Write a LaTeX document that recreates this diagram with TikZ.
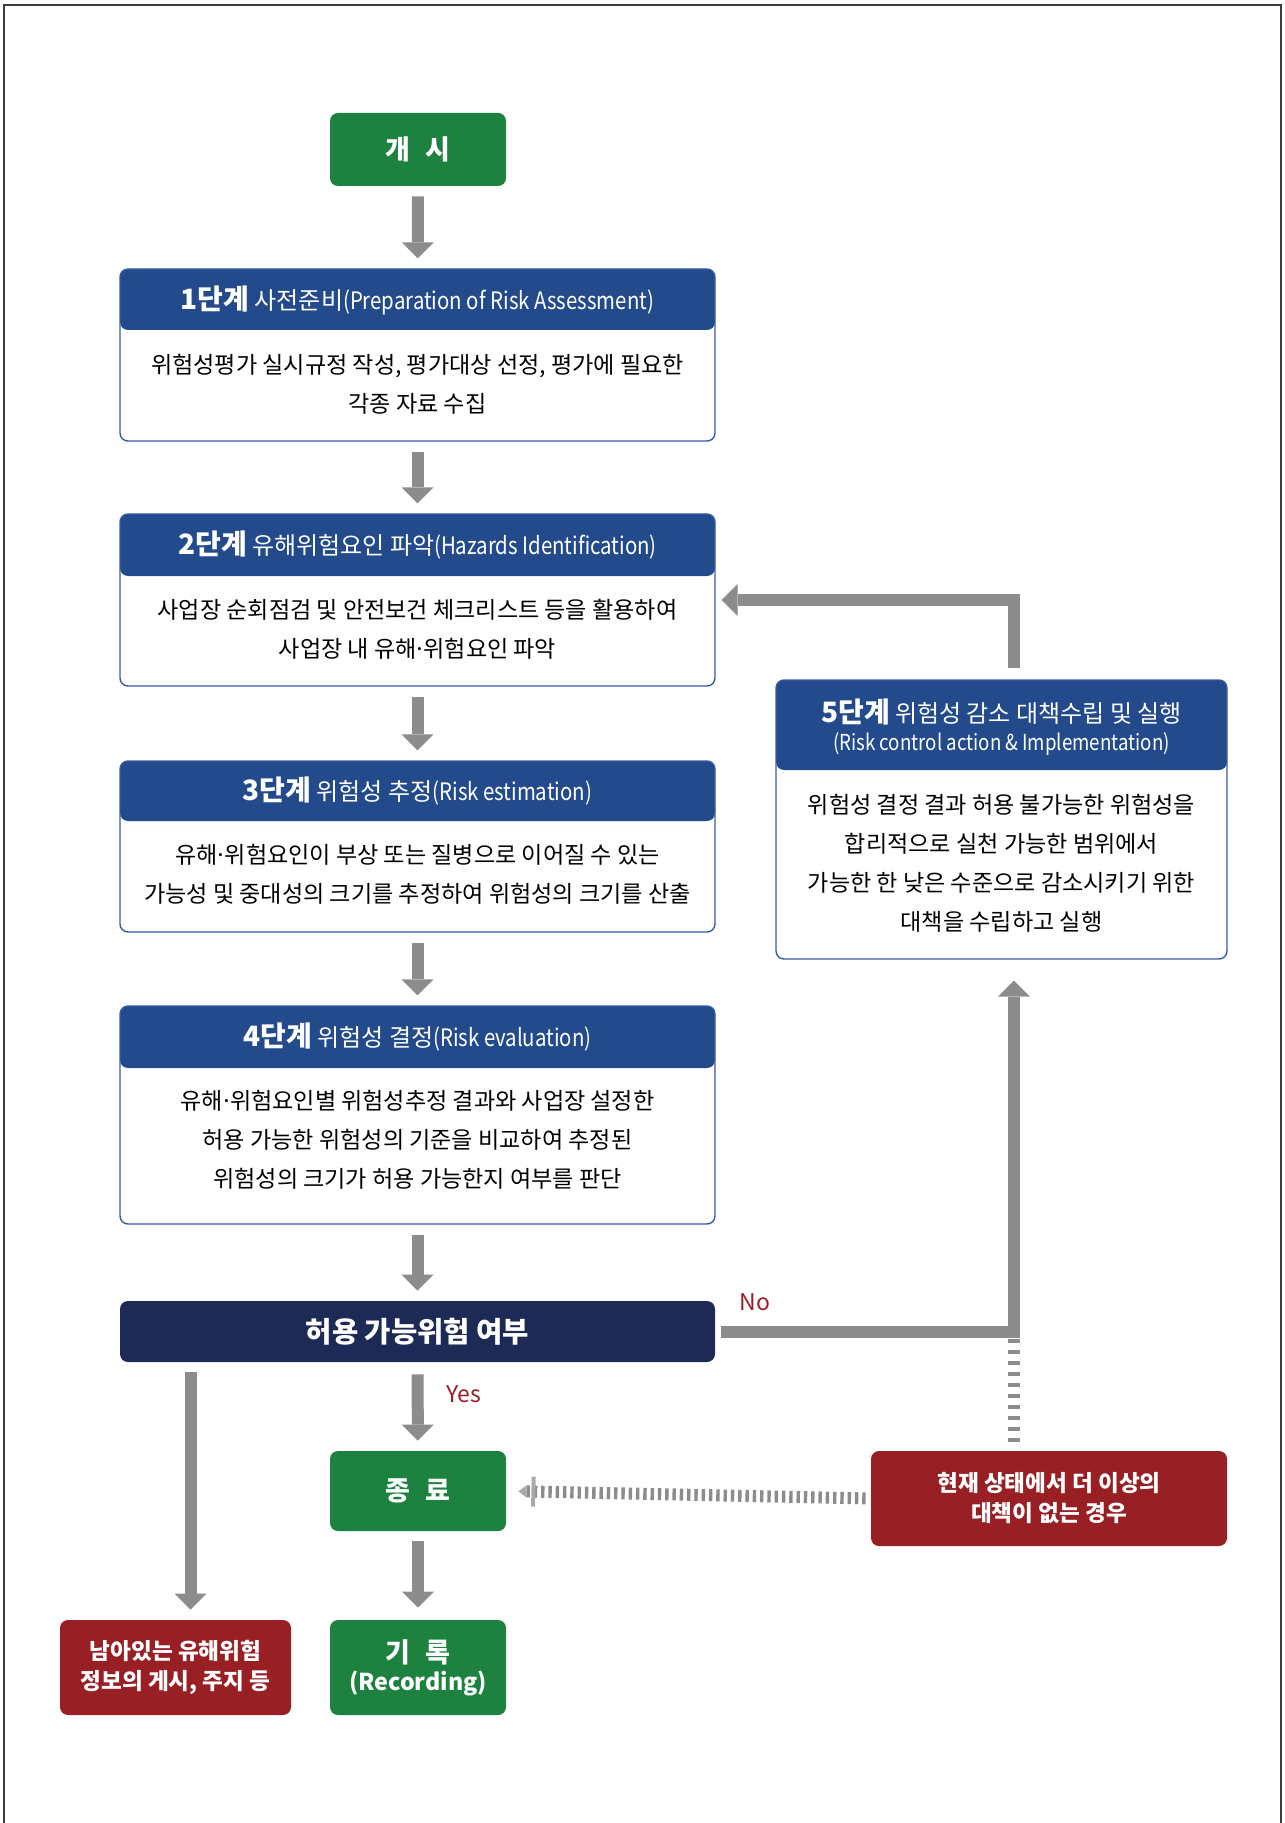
\documentclass[tikz,border=0pt]{standalone}
\usepackage{fontspec}
\setmainfont{Noto Sans CJK KR}
\newfontfamily\condlat[FakeStretch=0.85]{Noto Sans CJK KR}
\usetikzlibrary{arrows.meta,calc}
\definecolor{startgreen}{RGB}{29,130,64}
\definecolor{hdblue}{RGB}{35,75,140}
\definecolor{rimblue}{RGB}{55,90,165}
\definecolor{decnavy}{RGB}{30,42,86}
\definecolor{warnred}{RGB}{152,31,36}
\definecolor{lblred}{RGB}{160,28,34}
\definecolor{arrgray}{RGB}{140,140,140}
\definecolor{framegray}{RGB}{60,60,60}
\tikzset{
  flowarr/.style={draw=arrgray,line width=6pt,-{Triangle[width=16pt,length=8pt,line width=0pt]},shorten <=5pt,shorten >=5pt},
  termbox/.style={rectangle,rounded corners=4pt,fill=startgreen,text=white,font=\fontsize{13.5}{17}\selectfont\bfseries,align=center,minimum width=88pt},
  notebox/.style={rectangle,rounded corners=4pt,fill=warnred,text=white,font=\fontsize{11.3}{15}\selectfont\bfseries,align=center,minimum height=47.5pt},
  stepbox/.style={rectangle,rounded corners=4pt,draw=rimblue,line width=0.7pt,fill=white,minimum width=297.5pt,
    path picture={\fill[hdblue] (path picture bounding box.north west) rectangle ([yshift=-#1]path picture bounding box.north east);}},
  hdtext/.style={text=white,font=\fontsize{12}{14}\selectfont,align=center},
  bodytext/.style={font=\fontsize{11.55}{19.5}\selectfont,align=center},
  yesno/.style={text=lblred,font=\fontsize{11.5}{13}\selectfont}
}
\newcommand{\stg}[1]{{\fontsize{14}{15}\selectfont\bfseries #1}}
\newcommand{\eng}[1]{{\condlat #1}}
\newcommand{\mdot}{\makebox[0.3em]{·}}
\begin{document}
\begin{tikzpicture}[x=0.5pt,y=-0.5pt]
  \useasboundingbox (0,0) rectangle (1284,1823);
  \draw[framegray,line width=0.8pt] (4,1823) -- (4,5) -- (1281,5) -- (1281,1823); % frame

  % main column
  \node[termbox,minimum height=36.5pt] (start) at (418,149.5) {개\hspace{0.55em}시};
  \node[stepbox=30.5pt,minimum height=86pt] (s1) at (417.5,355) {};
  \node[hdtext] (s1h) at (417.5,300) {\stg{1단계} 사전준비\eng{(Preparation of Risk Assessment)}};
  \node[bodytext] (s1b) at (417.5,384) {위험성평가 실시규정 작성, 평가대상 선정, 평가에 필요한\\각종 자료 수집};

  \node[stepbox=31pt,minimum height=86pt] (s2) at (417.5,600) {};
  \node[hdtext] (s2h) at (417.5,545) {\stg{2단계} 유해위험요인 파악\eng{(Hazards Identification)}};
  \node[bodytext] (s2b) at (417.5,629) {사업장 순회점검 및 안전보건 체크리스트 등을 활용하여\\사업장 내 유해\mdot 위험요인 파악};

  \node[stepbox=30pt,minimum height=85.5pt] (s3) at (417.5,846.5) {};
  \node[hdtext] (s3h) at (417.5,791) {\stg{3단계} 위험성 추정\eng{(Risk estimation)}};
  \node[bodytext] (s3b) at (417.5,874) {유해\mdot 위험요인이 부상 또는 질병으로 이어질 수 있는\\가능성 및 중대성의 크기를 추정하여 위험성의 크기를 산출};

  \node[stepbox=31pt,minimum height=109pt] (s4) at (417.5,1115) {};
  \node[hdtext] (s4h) at (417.5,1037) {\stg{4단계} 위험성 결정\eng{(Risk evaluation)}};
  \node[bodytext] (s4b) at (417.5,1140) {유해\mdot 위험요인별 위험성추정 결과와 사업장 설정한\\허용 가능한 위험성의 기준을 비교하여 추정된\\위험성의 크기가 허용 가능한지 여부를 판단};

  \node[rectangle,rounded corners=4pt,fill=decnavy,text=white,font=\fontsize{14.3}{16}\selectfont\bfseries,minimum width=297.5pt,minimum height=30.5pt] (dec) at (417.5,1331.5) {허용 가능위험 여부};
  \node[termbox,minimum height=40pt] (end) at (418,1491) {종\hspace{0.55em}료};
  \node[termbox,minimum height=47.5pt] (rec) at (418,1667.5) {기\hspace{0.55em}록\\[-3pt]{\fontsize{11.6}{13}\selectfont(Recording)}};
  \node[notebox,minimum width=115.5pt] (left) at (175.5,1667.5) {남아있는 유해위험\\정보의 게시, 주지 등};

  % step 5 and its notes
  \node[stepbox=45pt,minimum width=225.5pt,minimum height=139.5pt] (s5) at (1001.5,819.5) {};
  \node[hdtext] (s5h) at (1001.5,727) {\stg{5단계} 위험성 감소 대책수립 및 실행\\{\fontsize{11}{13}\selectfont\eng{(Risk control action \& Implementation)}}};
  \node[bodytext] (s5b) at (1001.5,863) {위험성 결정 결과 허용 불가능한 위험성을\\합리적으로 실천 가능한 범위에서\\가능한 한 낮은 수준으로 감소시키기 위한\\대책을 수립하고 실행};
  \node[notebox,minimum width=178pt] (none) at (1049,1498.5) {현재 상태에서 더 이상의\\대책이 없는 경우};

  % arrows down the column
  \draw[flowarr] (start) -- (s1);
  \draw[flowarr] (s1) -- (s2);
  \draw[flowarr] (s2) -- (s3);
  \draw[flowarr] (s3) -- (s4);
  \draw[flowarr] (s4) -- (dec);
  \draw[flowarr,shorten <=6pt] (dec) -- (end) node[yesno,midway,right=8pt,yshift=6pt] (yes) {Yes};
  \draw[flowarr,shorten >=6pt] (end) -- (rec);
  \draw[flowarr] ([xshift=35.5pt]dec.south west) -- ([xshift=35.5pt]dec.south west |- left.north); % to notice box

  % loop through step 5
  \coordinate (bend) at ([xshift=6.25pt]s5.south |- dec.east);
  \draw[flowarr,shorten <=3pt,shorten >=10.5pt] (dec.east) -- (bend) -- ([xshift=6.25pt]s5.south); % No
  \node[yesno] (no) at (755,1302) {No};
  \draw[flowarr,shorten <=5.5pt,shorten >=3pt] ([xshift=6.25pt]s5.north) |- (s2.east); % back to step 2
  \draw[arrgray,line width=6pt,dash pattern=on 2.25pt off 3.25pt,shorten <=3.5pt,shorten >=2.5pt] (bend) -- (bend |- none.north); % dotted
  \draw[arrgray,line width=6pt,dash pattern=on 1.7pt off 1.95pt,shorten <=2.5pt,shorten >=6pt,
        -{Bar[width=15pt,line width=2pt,color=arrgray!75,sep=2.5pt]Triangle[length=4pt,width=6pt,line width=0pt,color=arrgray!75]}] (none.west) -- (end.east);
\end{tikzpicture}
\end{document}
